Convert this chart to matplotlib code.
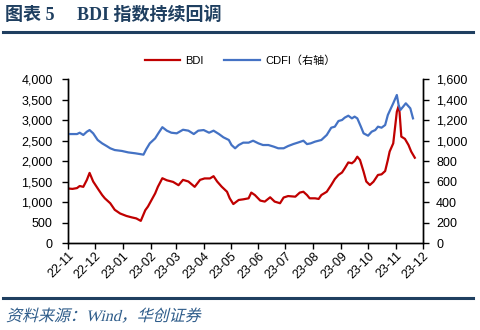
import pandas as pd
import matplotlib
matplotlib.use("Agg")
import matplotlib.pyplot as plt
import matplotlib.dates as mdates
import matplotlib.transforms as mtransforms
from matplotlib.ticker import FuncFormatter, MultipleLocator
from matplotlib.lines import Line2D
from matplotlib.textpath import TextPath
from matplotlib.patches import PathPatch
from matplotlib.font_manager import FontProperties

plt.rcParams['font.family'] = ['Liberation Sans', 'Noto Sans CJK SC', 'DejaVu Sans']

# BDI (left axis)
bdi_dates = ['2022-11-01', '2022-11-06', '2022-11-11', '2022-11-14', '2022-11-18', '2022-11-22',
             '2022-11-25', '2022-11-29', '2022-12-05', '2022-12-09', '2022-12-12', '2022-12-18',
             '2022-12-23', '2022-12-29', '2023-01-05', '2023-01-11', '2023-01-16', '2023-01-21',
             '2023-01-26', '2023-01-29', '2023-02-06', '2023-02-09', '2023-02-14', '2023-02-19',
             '2023-02-26', '2023-03-04', '2023-03-09', '2023-03-15', '2023-03-22', '2023-03-28',
             '2023-04-02', '2023-04-08', '2023-04-12', '2023-04-16', '2023-04-21', '2023-04-27',
             '2023-04-30', '2023-05-04', '2023-05-10', '2023-05-15', '2023-05-21', '2023-05-24',
             '2023-05-28', '2023-06-03', '2023-06-08', '2023-06-14', '2023-06-19', '2023-06-25',
             '2023-06-29', '2023-07-04', '2023-07-12', '2023-07-17', '2023-07-21', '2023-07-25',
             '2023-07-28', '2023-08-03', '2023-08-07', '2023-08-10', '2023-08-16', '2023-08-21',
             '2023-08-25', '2023-08-29', '2023-09-02', '2023-09-05', '2023-09-09', '2023-09-13',
             '2023-09-16', '2023-09-19', '2023-09-22', '2023-09-26', '2023-09-29', '2023-10-03',
             '2023-10-07', '2023-10-12', '2023-10-16', '2023-10-20', '2023-10-23', '2023-10-25',
             '2023-10-29', '2023-11-02', '2023-11-04', '2023-11-05', '2023-11-07', '2023-11-11',
             '2023-11-15', '2023-11-18', '2023-11-22']
bdi = [1330, 1320, 1340, 1390, 1370, 1540, 1710, 1500, 1300, 1170, 1090, 970,
       810, 720, 660, 625, 600, 540, 800, 890, 1210, 1370, 1580, 1530,
       1490, 1410, 1540, 1500, 1370, 1540, 1575, 1575, 1630, 1500, 1375, 1250,
       1090, 950, 1050, 1065, 1090, 1230, 1170, 1035, 1010, 1115, 1010, 970,
       1110, 1145, 1130, 1230, 1250, 1170, 1090, 1090, 1075, 1170, 1250, 1415,
       1560, 1660, 1720, 1820, 1965, 1945, 2000, 2105, 2025, 1740, 1500, 1415,
       1495, 1660, 1675, 1755, 2025, 2230, 2430, 3200, 3340, 3200, 2595, 2540,
       2390, 2230, 2080]

# CDFI (right axis)
cdfi_dates = ['2022-11-01', '2022-11-11', '2022-11-14', '2022-11-18', '2022-11-22', '2022-11-25',
              '2022-11-29', '2022-12-04', '2022-12-09', '2022-12-14', '2022-12-18', '2022-12-23',
              '2022-12-31', '2023-01-07', '2023-01-15', '2023-01-22', '2023-01-24', '2023-01-27',
              '2023-01-31', '2023-02-06', '2023-02-09', '2023-02-14', '2023-02-19', '2023-02-24',
              '2023-03-02', '2023-03-09', '2023-03-15', '2023-03-21', '2023-03-26', '2023-04-01',
              '2023-04-07', '2023-04-12', '2023-04-18', '2023-04-23', '2023-04-29', '2023-05-02',
              '2023-05-06', '2023-05-10', '2023-05-15', '2023-05-21', '2023-05-26', '2023-06-01',
              '2023-06-06', '2023-06-12', '2023-06-18', '2023-06-23', '2023-06-29', '2023-07-04',
              '2023-07-10', '2023-07-15', '2023-07-21', '2023-07-25', '2023-07-29', '2023-08-03',
              '2023-08-10', '2023-08-16', '2023-08-21', '2023-08-25', '2023-08-29', '2023-09-02',
              '2023-09-05', '2023-09-09', '2023-09-13', '2023-09-16', '2023-09-19', '2023-09-23',
              '2023-09-26', '2023-10-01', '2023-10-05', '2023-10-09', '2023-10-12', '2023-10-16',
              '2023-10-20', '2023-10-23', '2023-10-29', '2023-11-02', '2023-11-04', '2023-11-06',
              '2023-11-09', '2023-11-12', '2023-11-17', '2023-11-20']
cdfi = [1063, 1063, 1076, 1054, 1086, 1102, 1070, 1005, 972, 946, 924, 907,
        898, 884, 875, 865, 862, 914, 972, 1021, 1063, 1130, 1096, 1076,
        1070, 1105, 1096, 1063, 1096, 1102, 1076, 1096, 1063, 1031, 1005, 956,
        924, 956, 979, 979, 998, 972, 956, 956, 940, 924, 924, 946,
        966, 980, 998, 965, 972, 989, 1005, 1054, 1125, 1135, 1190, 1200,
        1223, 1242, 1216, 1233, 1216, 1135, 1070, 1047, 1086, 1102, 1135, 1125,
        1151, 1249, 1363, 1444, 1346, 1298, 1330, 1363, 1314, 1216]

title = '图表 5     BDI 指数持续回调'
source = '资料来源：Wind，华创证券'

RED = '#C00000'
BLUE = '#4472C4'
NAVY = '#1F3F60'

fig = plt.figure(figsize=(4.8, 3.3), dpi=100)
ax = fig.add_axes([0.1417, 0.2636, 0.7393, 0.497])
ax2 = ax.twinx()

ax.plot(pd.to_datetime(bdi_dates), bdi, color=RED, lw=1.6)
ax2.plot(pd.to_datetime(cdfi_dates), cdfi, color=BLUE, lw=1.6)

ax.set_xlim(pd.Timestamp('2022-11-01'), pd.Timestamp('2023-12-01'))
ax.set_ylim(0, 4000)
ax2.set_ylim(0, 1600)
ax.yaxis.set_major_locator(MultipleLocator(500))
ax2.yaxis.set_major_locator(MultipleLocator(200))
thousands = FuncFormatter(lambda v, p: f'{v:,.0f}')
ax.yaxis.set_major_formatter(thousands)
ax2.yaxis.set_major_formatter(thousands)

ax.xaxis.set_major_locator(mdates.MonthLocator())
ax.xaxis.set_major_formatter(mdates.DateFormatter('%y-%m'))
for lab in ax.get_xticklabels():
    lab.set_rotation(45)
    lab.set_ha('right')
    lab.set_rotation_mode('anchor')

for a in (ax, ax2):
    a.spines['top'].set_visible(False)
    for s in a.spines.values():
        s.set_linewidth(1.0)
    a.tick_params(direction='out', length=4, width=1.0, labelsize=9, colors='black')
ax.tick_params(axis='y', pad=7)
ax2.tick_params(axis='y', pad=5.5)
ax.tick_params(axis='x', pad=1)

# legend above the plot
handles = [Line2D([], [], color=RED, lw=1.6), Line2D([], [], color=BLUE, lw=1.6)]
fig.legend(handles, ['BDI', 'CDFI（右轴）'], loc='center', bbox_to_anchor=(0.5, 0.815),
           ncol=2, frameon=False, fontsize=8, handlelength=3.2, columnspacing=1.8,
           handletextpad=0.5)

# header and footer
fig.text(0.01, 0.953, title, fontsize=13, fontweight='bold', color=NAVY,
         family=['Liberation Serif', 'Noto Sans CJK SC'], va='center')
fig.add_artist(Line2D([0.006, 0.986], [0.903, 0.903], color=NAVY, lw=2.2))
fig.add_artist(Line2D([0.006, 0.986], [0.097, 0.097], color=NAVY, lw=2.2))

# slanted source note (CJK font has no italic face, so shear the outline)
fp = FontProperties(family=['Liberation Serif', 'Noto Sans CJK SC'], size=11.5)
path = TextPath((0, 0), source, prop=fp)
shear = mtransforms.Affine2D().skew_deg(14, 0).scale(fig.dpi / 72).translate(6, 9)
fig.add_artist(PathPatch(path, transform=shear, facecolor='#2E5C8A', edgecolor='none'))

fig.savefig('out.png', dpi=100)
